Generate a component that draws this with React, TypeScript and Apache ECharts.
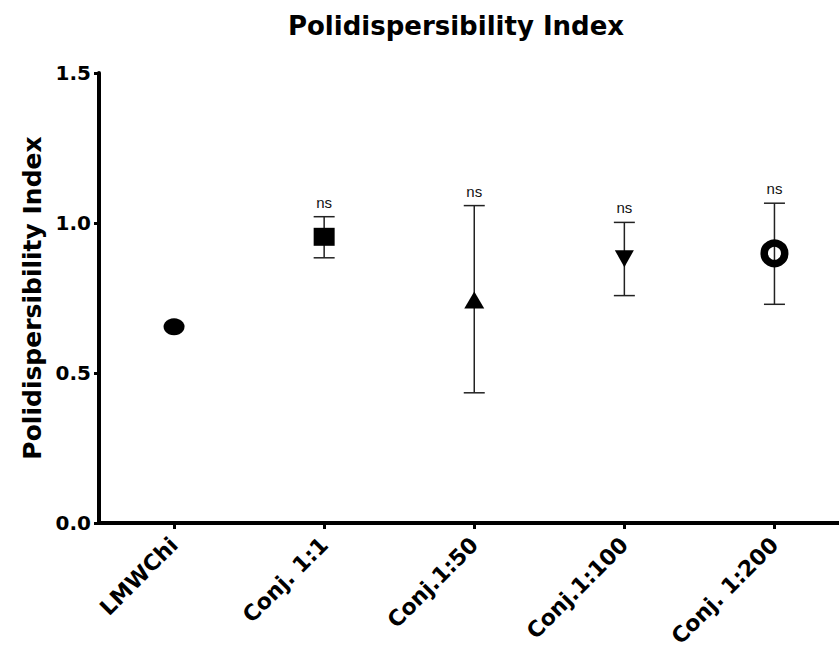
import React, { useEffect, useRef } from "react";
import * as echarts from "echarts";

// Sample groups on the x axis
const categories = ["LMWChi", "Conj. 1:1", "Conj.1:50", "Conj.1:100", "Conj. 1:200"];
// Mean polydispersity index per group
const means = [0.654, 0.954, 0.743, 0.881, 0.899];
// Error bar limits (no bar for the reference sample)
const lows = [null, 0.884, 0.434, 0.758, 0.729];
const highs = [null, 1.021, 1.058, 1.002, 1.066];
// Significance versus LMWChi
const significance = ["", "ns", "ns", "ns", "ns"];
// Y axis ticks
const yTicks = [0, 0.5, 1.0, 1.5];

// Marker look for each group
const markerStyles = [
  { symbol: "circle", symbolSize: [21, 17], symbolRotate: 0, itemStyle: { color: "#000", opacity: 1 } },
  { symbol: "rect", symbolSize: [21, 18], symbolRotate: 0, itemStyle: { color: "#000", opacity: 1 } },
  { symbol: "triangle", symbolSize: [20, 17], symbolRotate: 0, itemStyle: { color: "#000", opacity: 1 } },
  { symbol: "triangle", symbolSize: [19, 17], symbolRotate: 180, itemStyle: { color: "#000", opacity: 1 } },
  {
    symbol: "circle",
    symbolSize: 20.5,
    symbolRotate: 0,
    itemStyle: { color: "rgba(255,255,255,0)", borderColor: "#000", borderWidth: 7.5, opacity: 1 },
  },
];

const BOLD = '"DejaVu Sans"';

export default function App() {
  const ref = useRef<HTMLDivElement>(null);

  useEffect(() => {
    if (!ref.current) return;
    const chart = echarts.init(ref.current, undefined, { renderer: "svg" });

    const errorData = categories
      .map((_, i) => (lows[i] == null ? null : [i, lows[i], highs[i]]))
      .filter((d) => d !== null);

    const pointData = categories.map((_, i) => ({
      value: [i, means[i]],
      ...markerStyles[i],
    }));

    chart.setOption({
      animation: false,
      backgroundColor: "#fff",
      title: {
        text: "Polidispersibility Index",
        left: 451,
        top: 8,
        textAlign: "center",
        textStyle: { fontFamily: BOLD, fontWeight: "bold", fontSize: 26, color: "#000" },
      },
      grid: {
        left: 99,
        right: 0,
        top: 73,
        bottom: 125,
        containLabel: false,
        outerBoundsMode: "none",
      },
      xAxis: {
        type: "value",
        min: -0.5,
        max: 4.43,
        splitLine: { show: false },
        axisLine: { show: true, onZero: false, lineStyle: { color: "#000", width: 4 } },
        axisTick: {
          show: true,
          customValues: [0, 1, 2, 3, 4],
          length: 6,
          lineStyle: { color: "#000", width: 3 },
        },
        axisLabel: {
          customValues: [0, 1, 2, 3, 4],
          formatter: (v: number) => categories[Math.round(v)] ?? "",
          rotate: 45,
          margin: 18,
          fontFamily: BOLD,
          fontWeight: "bold",
          fontSize: 22,
          color: "#000",
        },
      },
      yAxis: {
        type: "value",
        min: yTicks[0],
        max: yTicks[yTicks.length - 1],
        interval: 0.5,
        name: "Polidispersibility Index",
        nameLocation: "middle",
        nameGap: 47,
        nameTextStyle: { fontFamily: BOLD, fontWeight: "bold", fontSize: 25, color: "#000" },
        splitLine: { show: false },
        axisLine: { show: true, onZero: false, lineStyle: { color: "#000", width: 4 } },
        axisTick: { show: true, length: 5, lineStyle: { color: "#000", width: 3 } },
        axisLabel: {
          formatter: (v: number) => v.toFixed(1),
          margin: 8,
          fontFamily: BOLD,
          fontWeight: "bold",
          fontSize: 20,
          color: "#000",
        },
      },
      series: [
        {
          type: "custom",
          z: 1,
          clip: false,
          encode: { x: 0, y: [1, 2] },
          data: errorData,
          renderItem: (_params: any, api: any) => {
            const i = api.value(0);
            const top = api.coord([i, api.value(2)]);
            const bot = api.coord([i, api.value(1)]);
            const half = 10.5;
            const line = { stroke: "#222", lineWidth: 1.5 };
            return {
              type: "group",
              children: [
                { type: "line", shape: { x1: top[0], y1: top[1], x2: bot[0], y2: bot[1] }, style: line },
                { type: "line", shape: { x1: top[0] - half, y1: top[1], x2: top[0] + half, y2: top[1] }, style: line },
                { type: "line", shape: { x1: bot[0] - half, y1: bot[1], x2: bot[0] + half, y2: bot[1] }, style: line },
                {
                  type: "text",
                  x: top[0],
                  y: top[1] - 7,
                  style: {
                    text: significance[i],
                    textAlign: "center",
                    textVerticalAlign: "bottom",
                    fontFamily: '"Liberation Sans"',
                    fontSize: 15,
                    fill: "#111",
                  },
                },
              ],
            };
          },
        },
        {
          type: "scatter",
          z: 2,
          itemStyle: { opacity: 1 },
          data: pointData,
        },
      ],
    });

    return () => chart.dispose();
  }, []);

  return (
    <div
      ref={ref}
      style={{ position: "absolute", left: 0, top: 0, width: 839, height: 648, background: "#fff" }}
    />
  );
}
